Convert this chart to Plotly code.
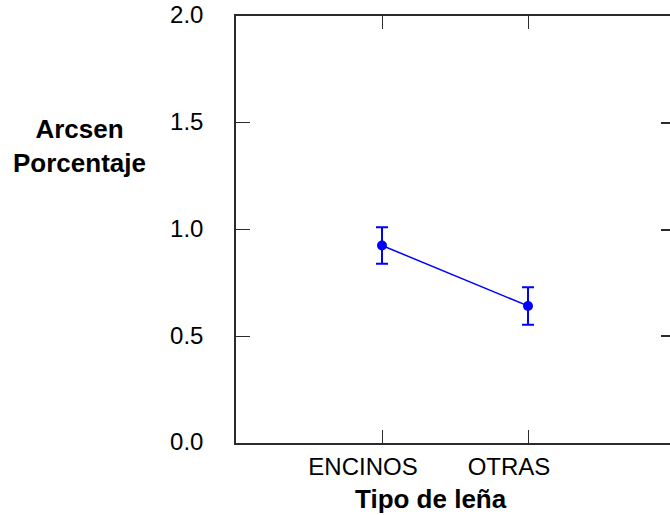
import plotly.graph_objects as go

# Mean arcsine-transformed percentage by firewood type, with error bars
categories = ["ENCINOS", "OTRAS"]
positions = [1, 2]
means = [0.925, 0.642]
errors = [0.086, 0.088]

y_ticks = [0.0, 0.5, 1.0, 1.5, 2.0]
y_tick_text = ["0.0", "0.5", "1.0", "1.5", "2.0"]

BLUE = "#0000FF"
AXIS = "#2b2b2b"
FONT = "Liberation Sans, Arial, sans-serif"

fig = go.Figure()

fig.add_trace(go.Scatter(
    x=positions,
    y=means,
    mode="lines+markers",
    line=dict(color=BLUE, width=1.5),
    marker=dict(color=BLUE, size=10),
    error_y=dict(type="data", array=errors, visible=True,
                 color=BLUE, thickness=2, width=6),
    showlegend=False,
    hoverinfo="skip",
))

# empty trace so the right-hand tick axis gets drawn
fig.add_trace(go.Scatter(x=[None], y=[None], yaxis="y2",
                         showlegend=False, hoverinfo="skip"))

fig.update_layout(
    width=670,
    height=515,
    margin=dict(l=236, r=0, t=16, b=72),
    paper_bgcolor="white",
    plot_bgcolor="white",
    font=dict(family=FONT, size=24, color="black"),
    xaxis=dict(
        range=[0, 434 / 146],
        tickvals=positions,
        ticktext=categories,
        showgrid=False,
        zeroline=False,
        showline=True,
        linecolor=AXIS,
        linewidth=1.5,
        mirror="ticks",
        ticks="inside",
        ticklen=13,
        tickwidth=1.2,
        tickcolor=AXIS,
        ticklabelshift=-19,
        ticklabelstandoff=1,
        tickfont=dict(size=24),
        automargin=False,
    ),
    yaxis=dict(
        range=[0, 2],
        tickvals=y_ticks,
        ticktext=y_tick_text,
        showgrid=False,
        zeroline=False,
        showline=True,
        linecolor=AXIS,
        linewidth=1.5,
        ticks="inside",
        ticklen=14,
        tickwidth=1.2,
        tickcolor=AXIS,
        ticklabelstandoff=26,
        ticklabelshift=-1,
        ticklabeloverflow="allow",
        tickfont=dict(size=24),
        automargin=False,
    ),
    yaxis2=dict(
        overlaying="y",
        side="right",
        matches="y",
        range=[0, 2],
        tickvals=y_ticks,
        showticklabels=False,
        showgrid=False,
        zeroline=False,
        showline=False,
        ticks="inside",
        ticklen=9,
        tickwidth=1.5,
        tickcolor=AXIS,
        automargin=False,
    ),
    annotations=[
        dict(text="<b>Arcsen<br>Porcentaje</b>", xref="paper", yref="paper",
             x=(79 - 236) / 434, y=(443 - 146) / 427,
             xanchor="center", yanchor="middle", showarrow=False,
             font=dict(size=26, family=FONT)),
        dict(text="<b>Tipo de leña</b>", xref="paper", yref="paper",
             x=(431 - 236) / 434, y=(443 - 499) / 427,
             xanchor="center", yanchor="middle", showarrow=False,
             font=dict(size=26, family=FONT)),
    ],
)

fig.write_html("out.html")
